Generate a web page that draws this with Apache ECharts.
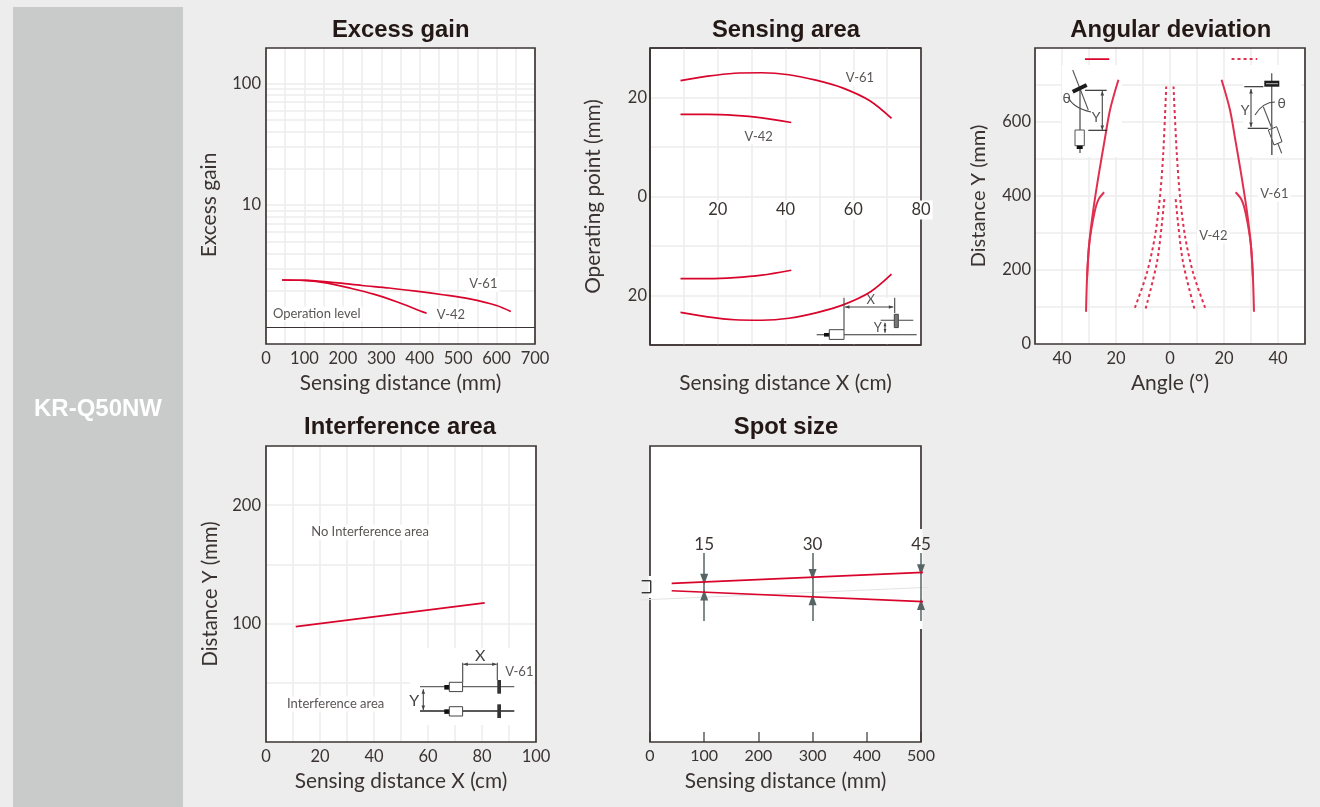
<!DOCTYPE html>
<html><head><meta charset="utf-8">
<style>html,body{margin:0;padding:0;background:#ededed}#c{width:1320px;height:807px}</style>
<script src="https://cdn.jsdelivr.net/npm/echarts@6/dist/echarts.min.js"></script>
</head><body><div id="c"></div>
<script>
// ---------- data ----------
const gainV61 = [[42,2.43],[110,2.41],[180,2.31],[250,2.19],[320,2.09],[390,1.97],[460,1.84],[530,1.70],[600,1.50],[637,1.34]];
const gainV42 = [[42,2.43],[100,2.41],[160,2.29],[220,2.08],[280,1.86],[340,1.61],[400,1.36],[418,1.295]];
const gainGridLines = [2,3,4,5,6,7,8,9,10,20,30,40,50,60,70,80,90,100];
const operationLevel = 1;

const areaV61Upper = [[9,23.4],[17,24.3],[25,24.9],[33,25],[41,24.6],[49,23.5],[57,21.9],[65,19.3],[71.3,15.8]];
const areaV61Lower = [[9,-23.4],[17,-24.3],[25,-24.9],[33,-25],[41,-24.6],[49,-23.5],[57,-21.9],[65,-19.3],[71.3,-15.7]];
const areaV42Upper = [[9,16.6],[17,16.6],[25,16.4],[33,15.9],[41.7,14.95]];
const areaV42Lower = [[9,-16.6],[17,-16.6],[25,-16.4],[33,-15.9],[41.7,-14.9]];

const angV61Left  = [[-31.1,87],[-30.7,182],[-29.9,272],[-28.4,363],[-26.5,453],[-24.4,543],[-22.2,633],[-19.1,714]];
const angV61Right = [[31.1,87],[30.7,182],[29.9,272],[28.4,363],[26.5,453],[24.4,543],[22.2,633],[19.1,714]];
const angV61ShortLeft  = [[-30.7,182],[-29.9,272],[-28,354],[-26.5,390],[-24.4,410]];
const angV61ShortRight = [[30.7,182],[29.9,272],[28,354],[26.5,390],[24.3,410]];
const angV42OuterLeft  = [[-13,98],[-8.6,191],[-5.6,290],[-3.7,399],[-2.5,516],[-1.4,696]];
const angV42OuterRight = [[13,98],[8.6,191],[5.6,290],[3.7,399],[2.5,516],[1.3,696]];
const angV42InnerLeft  = [[-9,96],[-4.9,218],[-3.1,318],[-2,399]];
const angV42InnerRight = [[9,96],[4.9,218],[3.1,318],[2,399]];
const angKeySolid  = [[-31.5,770],[-22.5,770]];
const angKeyDashed = [[22.8,770],[32.3,770]];

const interferenceLine = [[11,97.5],[81,117.5]];

const spotUpper = [[40,5.8],[505,23.3]];
const spotLower = [[40,-5.8],[505,-23.3]];
const spotDistances = [100,300,500];
const spotSizes = [15,30,45];

// ---------- style ----------
const RED='#d9042b', INK='#3a3331', GRID='#ececec', FONT='Lato, "Open Sans", sans-serif';
const grids = [
 {left:266,top:48,width:269,height:296},
 {left:650,top:48,width:271,height:297},
 {left:1035,top:48,width:270,height:296},
 {left:266,top:446,width:270,height:296},
 {left:650,top:446,width:271,height:296}
].map(g=>Object.assign(g,{show:true,backgroundColor:'#fff',borderWidth:0,containLabel:false}));

const split={show:true,showMinLine:false,showMaxLine:false,lineStyle:{color:GRID,width:1.5}};
const nameStyle=s=>({fontFamily:FONT,fontSize:s||20.8,color:INK});
const lab=(fmt,extra)=>Object.assign({fontFamily:FONT,fontSize:16.5,color:INK,margin:6,formatter:fmt,showMinLabel:true,showMaxLabel:true},extra||{});
const base=(i,o)=>Object.assign({gridIndex:i,type:'value',axisLine:{show:false,onZero:false},axisTick:{show:false},splitLine:split,nameLocation:'middle',nameTextStyle:nameStyle()},o);
const only=(set,abs)=>v=>set.includes(Math.round(v))?String(abs?Math.abs(Math.round(v)):Math.round(v)):'';
const patched=set=>v=>set.includes(Math.round(v))?'{w|'+Math.round(v)+'}':'';

const xAxes=[
 base(0,{min:0,max:700,interval:50,name:'Sensing distance (mm)',nameGap:29,axisLabel:lab(only([0,100,200,300,400,500,600,700]))}),
 base(1,{min:0,max:80,interval:10,z:1.5,offset:-148.5,name:'Sensing distance X (cm)',nameGap:176,
   axisLabel:lab(patched([20,40,60,80]),{margin:4,rich:{w:{fontFamily:FONT,fontSize:16.5,color:INK,backgroundColor:'#fff',padding:[1,2]}}})}),
 base(2,{min:-50,max:50,interval:10,name:'Angle (°)',nameGap:29,nameTextStyle:nameStyle(21),axisLabel:lab(only([-40,-20,0,20,40],true))}),
 base(3,{min:0,max:100,interval:10,name:'Sensing distance X (cm)',nameGap:29,axisLabel:lab(only([0,20,40,60,80,100]))}),
 base(4,{min:0,max:500,interval:100,name:'Sensing distance (mm)',nameGap:29,splitLine:{show:false},
   axisTick:{show:true,inside:true,length:10,lineStyle:{color:'#6b6866',width:1.6}},
   axisLabel:lab(v=>String(v),{fontSize:16})})
];
const yAxes=[
 base(0,{type:'log',logBase:10,min:0.725,max:195,name:'Excess gain',nameGap:46,splitLine:{show:false},
   nameTextStyle:Object.assign(nameStyle(21),{padding:[0,18,0,0]}),
   axisLabel:lab(only([10,100]),{margin:5})}),
 base(1,{min:-30,max:30,interval:10,name:'Operating point (mm)',nameGap:46,axisLabel:lab(only([-20,0,20],true),{margin:3})}),
 base(2,{min:0,max:800,interval:100,name:'Distance Y (mm)',nameGap:46,nameTextStyle:nameStyle(20),axisLabel:lab(only([0,200,400,600]),{margin:4})}),
 base(3,{min:0,max:250,interval:50,name:'Distance Y (mm)',nameGap:46,nameTextStyle:nameStyle(20.4),axisLabel:lab(only([100,200]),{margin:5})}),
 base(4,{min:-246,max:224,interval:470,splitLine:{show:false},axisLabel:{show:false}})
];

const line=(i,name,data,o)=>Object.assign({type:'line',name,xAxisIndex:i,yAxisIndex:i,data,smooth:0.3,showSymbol:false,symbol:'none',silent:true,clip:false,z:2,
  lineStyle:{color:RED,width:1.7}},o||{});
const soft=(i,name,data)=>line(i,name,data,{lineStyle:{color:'#e0304f',width:2}});
const dash=(i,name,data)=>line(i,name,data,{lineStyle:{color:'#e0304f',width:2,type:[3,3]}});

// Spot-size arrows, from the three distances and their sizes
const ARROW='#566464', SHAFT=54, GAP=5, HEAD=[8,11];
const arrowLines=[];
spotDistances.forEach((d,k)=>{
  const tip=spotSizes[k]/2+GAP;
  arrowLines.push([{coord:[d,SHAFT]},{coord:[d,tip],symbol:'triangle',symbolSize:HEAD}]);
  arrowLines.push([{coord:[d,-SHAFT]},{coord:[d,-tip],symbol:'triangle',symbolSize:HEAD}]);
  arrowLines.push([{coord:[d,tip],symbol:'none'},{coord:[d,-tip],symbol:'none'}]);
});

const series=[
 line(0,'grid',[],{z:0.5,markLine:{z:0.5,silent:true,symbol:'none',label:{show:false},animation:false,
    lineStyle:{color:GRID,width:1.5,type:'solid'},data:gainGridLines.map(v=>({yAxis:v}))}}),
 line(0,'Operation level',[],{z:1.5,markLine:{z:1.5,silent:true,symbol:'none',label:{show:false},animation:false,
    lineStyle:{color:INK,width:1.2,type:'solid'},data:[{yAxis:operationLevel}]}}),
 line(0,'V-61',gainV61), line(0,'V-42',gainV42),
 line(1,'V-61 upper',areaV61Upper), line(1,'V-61 lower',areaV61Lower),
 line(1,'V-42 upper',areaV42Upper), line(1,'V-42 lower',areaV42Lower),
 soft(2,'V-61 left',angV61Left), soft(2,'V-61 right',angV61Right),
 soft(2,'V-61 short left',angV61ShortLeft), soft(2,'V-61 short right',angV61ShortRight),
 dash(2,'V-42 outer left',angV42OuterLeft), dash(2,'V-42 outer right',angV42OuterRight),
 dash(2,'V-42 inner left',angV42InnerLeft), dash(2,'V-42 inner right',angV42InnerRight),
 line(2,'key solid',angKeySolid,{smooth:false}), dash(2,'key dashed',angKeyDashed),
 line(3,'V-61',interferenceLine,{smooth:false}),
 line(4,'arrows',[],{z:1.5,markLine:{z:1.5,silent:true,animation:false,label:{show:false},symbol:['none','none'],symbolSize:HEAD,
    lineStyle:{color:ARROW,width:1.5,type:'solid',opacity:1},data:arrowLines}}),
 line(4,'spot upper',spotUpper,{smooth:false}), line(4,'spot lower',spotLower,{smooth:false}),
 {type:'scatter',xAxisIndex:4,yAxisIndex:4,symbolSize:0,silent:true,z:4,clip:false,
  data:spotDistances.map((d,k)=>({value:[d,67],label:{formatter:String(spotSizes[k]),color:INK,opacity:1}})),
  itemStyle:{opacity:1},
  label:{show:true,position:'inside',fontFamily:FONT,fontSize:17,color:INK}}
];

// ---------- decoration ----------
const g=[];
const L=(x1,y1,x2,y2,w,c,z)=>g.push({type:'line',silent:true,z:z||3,shape:{x1,y1,x2,y2},style:{stroke:c||'#4a4a4a',lineWidth:w||1}});
const R=(x,y,width,height,fill,stroke,z,lw)=>g.push({type:'rect',silent:true,z:z||3,shape:{x,y,width,height},style:{fill:fill||'#fff',stroke:stroke||null,lineWidth:lw||1}});
const P=(points,fill,stroke,z,lw)=>g.push({type:'polygon',silent:true,z:z||3,shape:{points},style:{fill:fill||'none',stroke:stroke||null,lineWidth:lw||1}});
const T=(text,x,y,size,o)=>g.push({type:'text',silent:true,z:(o&&o.z)||4,x,y,style:Object.assign({text,fontFamily:(o&&o.ff)||FONT,fontSize:size,fontWeight:(o&&o.fw)||'normal',fill:(o&&o.fill)||'#555',align:'center',verticalAlign:'middle'},o&&o.bg?{backgroundColor:'#fff',padding:[1,2]}:{})});
const C=(x1,y1,cpx1,cpy1,x2,y2)=>g.push({type:'bezierCurve',silent:true,z:3,shape:{x1,y1,cpx1,cpy1,x2,y2},style:{stroke:'#4a4a4a',lineWidth:1.1,fill:'none'}});
const arrV=(x,y1,y2,s)=>{L(x,y1,x,y2,1.1,'#444');s=s||3;P([[x,y1],[x-s*0.6,y1+s*1.5],[x+s*0.6,y1+s*1.5]],'#444');P([[x,y2],[x-s*0.6,y2-s*1.5],[x+s*0.6,y2-s*1.5]],'#444');};
const arrH=(x1,x2,y,s)=>{L(x1,y,x2,y,1.1,'#444');s=s||3;P([[x1,y],[x1+s*1.5,y-s*0.6],[x1+s*1.5,y+s*0.6]],'#444');P([[x2,y],[x2-s*1.5,y-s*0.6],[x2-s*1.5,y+s*0.6]],'#444');};

// side panel
g.push({type:'rect',silent:true,z:0,shape:{x:13,y:7,width:170,height:800},style:{fill:'#c9cbca'}});
T('KR-Q50NW',98,409,24,{ff:'"Liberation Sans",Arial,sans-serif',fw:'bold',fill:'#fff'});
// plot frames (above gridlines, below patches and curves)
grids.forEach(f=>R(f.left,f.top,f.width,f.height,'transparent','#3d3533',1,1.7));
// sensing-area frame: top, left and bottom sit over that panel's raised axis; its label still breaks the right edge
L(650,48,921,48,1.7,'#3d3533',1.55);L(650,345,921,345,1.7,'#3d3533',1.55);L(650,48,650,345,1.7,'#3d3533',1.55);
// titles
const TF={ff:'"Liberation Sans",Arial,sans-serif',fw:'bold',fill:'#231815'};
T('Excess gain',400.7,30.5,23.8,TF);T('Sensing area',786,30.5,23.8,TF);T('Angular deviation',1170.7,30.5,23.8,TF);
T('Interference area',400,427.5,23.8,TF);T('Spot size',786,427.5,23.8,TF);
// annotations
const A={bg:true,fill:'#5a5655'};
T('V-61',483.3,284.3,13,A);T('V-42',451,315,13,A);T('Operation level',316.7,314,13,A);
T('V-61',860,78.3,13,A);T('V-42',758.7,136.7,13,A);
T('V-61',1274.3,194.3,13,A);T('V-42',1213.3,235.7,13,A);
T('No Interference area',370,532.3,13,A);T('Interference area',335.7,704,13,A);

// sensing-area inset
R(815,298,104,46,'#fff',null,1.6);
L(816.7,334.7,916.7,334.7,1.1,'#333');
R(824,333,5.3,3.6,'#111');
R(829.3,329.7,14.7,9.7,'#fff','#444');
L(844,297.7,844,329.7,1.1,'#444');L(894.7,297.7,894.7,313,1.1,'#444');
arrH(845,893.3,307);
L(880.7,320.3,913.3,320.3,1.1,'#444');
R(894.3,314.3,4,13.3,'#777','#444');
T('X',870.7,300,13);T('Y',877.7,327.7,13);arrV(885,322.7,332.7,2.4);

// angular left inset
R(1062,65,60,92,'#fff',null,1.6);
L(1072.7,70,1088.3,110,1.1,'#555');L(1080,90,1080,153,1.3,'#555');
L(1072.7,91.7,1086.7,85,4,'#1c1c1c');
L(1085,90.3,1106.7,90.3,1.1,'#222');L(1088.3,130.3,1107.3,130.3,1.1,'#222');
arrV(1102.3,91,130);
T('Y',1096,117.7,14);T('θ',1066.7,98.3,14);
C(1068,97,1073,108,1091,112,1096,102.3);
R(1075,130,9.3,15.7,'#fff','#555');R(1076.7,145.7,6,3.3,'#111');
// angular right inset
R(1243,65,58,92,'#fff',null,1.6);
L(1271.7,73.3,1271.7,155,1.4,'#666');
R(1264.3,80.7,15,6,'#1c1c1c');L(1266,83.7,1278,83.7,1,'#bbb');
L(1263.3,106.7,1281.7,153.3,1.1,'#555');
P([[1268.3,130],[1276.7,126.7],[1282,141.7],[1274,145]],'#fff','#444');
L(1271.7,125,1271.7,155,1.4,'#666');
L(1244.3,86.7,1263.3,86.7,1.1,'#222');L(1247.7,128.3,1268.3,128.3,1.1,'#222');
arrV(1251,89,127);
T('Y',1245,110,14);T('θ',1281.7,103.3,14);
C(1255,115,1263,102,1275,102,1282.7,113.3);

// interference inset
R(410,648,124,77,'#fff',null,1.6);
L(420,686.7,514.3,686.7,1.3,'#666');L(420,711,514.3,711,1.3,'#222');
[685,709.3].forEach(y=>R(444.3,y,5,4.6,'#111'));
[682.3,706.7].forEach(y=>R(449.3,y,13.3,9.3,'#fff','#444'));
[680,704.3].forEach(y=>R(497.3,y,3.7,13.7,'#333'));
L(462.7,662.7,462.7,682.3,1.1,'#444');L(497.3,662.7,497.3,680,1.1,'#444');
arrH(463.3,496.7,664.3);
T('X',480.3,656,16,{fill:'#444'});T('Y',414.3,700.7,16,{fill:'#444'});
T('V-61',519.3,671.7,13,{fill:'#5a5655'});
arrV(423.3,689.3,710);

// spot-size frame gaps, emitter, stray hairline
R(648.5,576,4,22,'#fff',null,1.2);
R(919.5,529,3,100,'#fff',null,1.2);
L(640,600,928,587.3,1,'#e3e3e3',1.3);
L(641.7,580.7,650.7,580.7,1.4,'#333');L(641.7,592.7,650.7,592.7,1.4,'#333');L(650.7,580.7,650.7,592.7,1.4,'#333');

const chart=echarts.init(document.getElementById('c'),null,{renderer:'canvas'});
chart.setOption({animation:false,backgroundColor:'#ededed',grid:grids,xAxis:xAxes,yAxis:yAxes,series,graphic:{elements:g}});
</script></body></html>
